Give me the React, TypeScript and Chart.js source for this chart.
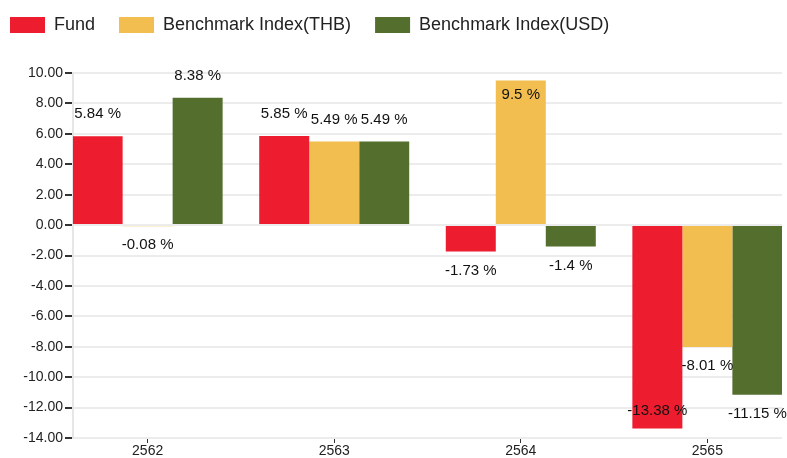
import React, { useEffect, useRef } from "react";
import { Chart, registerables } from "chart.js";

Chart.register(...registerables);

const categories = ["2562", "2563", "2564", "2565"];
const seriesNames = ["Fund", "Benchmark Index(THB)", "Benchmark Index(USD)"];
const fundValues = [5.84, 5.85, -1.73, -13.38];
const thbValues = [-0.08, 5.49, 9.5, -8.01];
const usdValues = [8.38, 5.49, -1.4, -11.15];
const seriesColors = ["#ED1C2E", "#F2BE4F", "#546E2E"];
const yMin = -14;
const yMax = 10;
const yStep = 2;

const FONT = '"Liberation Sans", Arial, sans-serif';

const legendSpace = {
  id: "legendSpace",
  beforeInit(chart: any) {
    const legend = chart.legend;
    if (!legend) return;
    const orig = legend.fit;
    legend.fit = function () {
      orig.call(this);
      this.height = 81;
    };
  },
};

const valueLabels = {
  id: "valueLabels",
  afterDatasetsDraw(chart: any) {
    const ctx = chart.ctx;
    const area = chart.chartArea;
    ctx.save();
    ctx.font = `15px ${FONT}`;
    ctx.fillStyle = "#111";
    ctx.textAlign = "center";
    ctx.textBaseline = "middle";
    chart.data.datasets.forEach((ds: any, di: number) => {
      const meta = chart.getDatasetMeta(di);
      meta.data.forEach((bar: any, i: number) => {
        const v = ds.data[i].y;
        let y: number;
        if (v >= 0) {
          y = bar.y - 22;
          if (y < area.top) y = bar.y + 14;
        } else {
          y = bar.y + 19;
          if (y > area.bottom - 5) y = bar.y - 18;
        }
        ctx.fillText(`${v} %`, bar.x, y);
      });
    });
    ctx.restore();
  },
};

export default function App() {
  const ref = useRef<HTMLCanvasElement>(null);

  useEffect(() => {
    if (!ref.current) return;
    const seriesValues = [fundValues, thbValues, usdValues];
    const chart = new Chart(ref.current, {
      type: "bar",
      data: {
        datasets: seriesValues.map((vals, si) => ({
          label: seriesNames[si],
          data: vals.map((v, i) => ({ x: i, y: v })),
          backgroundColor: seriesColors[si],
          borderWidth: 0,
          categoryPercentage: 0.804,
          barPercentage: 1,
        })),
      },
      options: {
        responsive: false,
        animation: false,
        layout: { padding: { right: 5, top: 0, bottom: 0, left: 0 } },
        plugins: {
          tooltip: { enabled: false },
          legend: {
            position: "top",
            align: "start",
            labels: {
              boxWidth: 35,
              boxHeight: 16,
              padding: 24,
              color: "#222",
              font: { family: FONT, size: 18 },
            },
          },
        },
        scales: {
          x: {
            type: "linear",
            min: -0.4,
            max: 3.4,
            offset: false,
            afterBuildTicks(scale: any) {
              scale.ticks = categories.map((_, i) => ({ value: i }));
            },
            afterFit(scale: any) {
              scale.height = 20;
            },
            ticks: {
              autoSkip: false,
              maxRotation: 0,
              padding: 0,
              color: "#222",
              font: { family: FONT, size: 14 },
              callback: (v: any) => categories[v] ?? "",
            },
            grid: {
              display: true,
              offset: false,
              drawOnChartArea: false,
              drawTicks: true,
              tickLength: 5,
              tickColor: "#333",
            },
            border: { display: false },
          },
          y: {
            min: yMin,
            max: yMax,
            afterFit(scale: any) {
              scale.width = 87;
            },
            ticks: {
              stepSize: yStep,
              padding: 2,
              color: "#222",
              font: { family: FONT, size: 14 },
              callback: (v: any) => Number(v).toFixed(2),
            },
            grid: {
              color: "#ececec",
              lineWidth: 2,
              tickColor: "#333",
              tickLength: 8,
            },
            border: { display: true, color: "#e6e6e6", width: 2 },
          },
        },
      },
      plugins: [legendSpace, valueLabels],
    } as any);
    return () => chart.destroy();
  }, []);

  return (
    <div style={{ position: "absolute", left: -14, top: -8, width: 801, height: 466 }}>
      <canvas ref={ref} width={801} height={466} style={{ display: "block" }} />
    </div>
  );
}
